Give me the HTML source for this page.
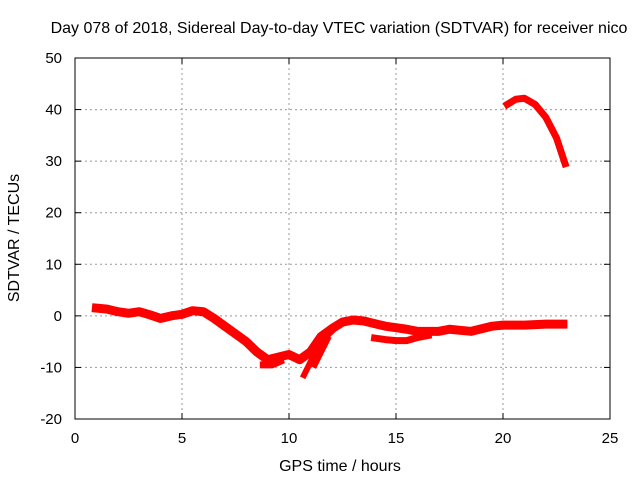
<!DOCTYPE html>
<html><head><meta charset="utf-8"><style>
body{margin:0;background:#fff}
svg{font-family:"Liberation Sans",sans-serif;font-size:15px}
.big{font-size:16px}
</style></head><body>
<svg width="640" height="480">
<rect width="640" height="480" fill="#fff"/>
<g id="grid"></g>
<g id="series"></g>
<rect x="75" y="58" width="535" height="361" fill="none" stroke="#000" stroke-width="1"/>
<g id="ticks"></g>
<text class="big" x="339" y="33" text-anchor="middle">Day 078 of 2018, Sidereal Day-to-day VTEC variation (SDTVAR) for receiver nico</text>
<text class="big" x="340" y="471" text-anchor="middle">GPS time / hours</text>
<text class="big" transform="translate(19,238) rotate(-90)" text-anchor="middle">SDTVAR / TECUs</text>
</svg>
<script>
const xTicks=[0,5,10,15,20,25];
const yTicks=[-20,-10,0,10,20,30,40,50];
const mainX=[1.0,1.5,2,2.5,3,3.5,4,4.5,5,5.5,6,6.5,7,7.5,8,8.5,9,9.5,10,10.5,11,11.5,12,12.5,13,13.5,14,14.5,15,15.5,16,16.5,17,17.5,18,18.5,19,19.5,20,21,22,22.8];
const mainY=[1.5,1.3,0.8,0.5,0.8,0.2,-0.5,0,0.3,1.0,0.8,-0.5,-2,-3.5,-5,-7,-8.5,-8,-7.5,-8.5,-7,-4,-2.5,-1.2,-0.8,-1,-1.5,-2,-2.3,-2.6,-3,-3,-3,-2.6,-2.8,-3,-2.5,-2,-1.8,-1.8,-1.6,-1.6];
const lowX=[14,14.5,15,15.5,16,16.5];
const lowY=[-4.3,-4.6,-4.8,-4.8,-4.2,-3.8];
const dipAX=[10.7,11,11.5,12];
const dipAY=[-11.5,-9,-5,-3];
const dipBX=[11.2,11.5,11.8];
const dipBY=[-9.5,-7,-4.5];
const dipCX=[8.8,9.2,9.6];
const dipCY=[-9.5,-9.5,-8.8];
const upX=[20.2,20.6,21,21.5,22,22.5,22.9];
const upY=[41,42,42.2,41,38.5,34.5,29.5];
const NS='http://www.w3.org/2000/svg';
const L=75,R=610,T=58,B=419;
const sx=v=>L+(v-0)/(25-0)*(R-L);
const sy=v=>B-(v+20)/(70)*(B-T);
const grid=document.getElementById('grid'),ticks=document.getElementById('ticks'),ser=document.getElementById('series');
function mk(t,a,p){const e=document.createElementNS(NS,t);for(const k in a)e.setAttribute(k,a[k]);p.appendChild(e);return e;}
xTicks.forEach(v=>{const x=sx(v);
 if(v>0&&v<25){const g=mk('line',{x1:x,x2:x,y1:T,y2:B,stroke:'#999','stroke-dasharray':'2,3'},grid);}
 mk('line',{x1:x,x2:x,y1:B,y2:B-6,stroke:'#000'},ticks);mk('line',{x1:x,x2:x,y1:T,y2:T+6,stroke:'#000'},ticks);
 const t=mk('text',{x:x,y:B+24,'text-anchor':'middle'},ticks);t.textContent=v;
 
 });
yTicks.forEach(v=>{const y=sy(v);
 if(v>-20&&v<50){const g=mk('line',{x1:L,x2:R,y1:y,y2:y,stroke:'#999','stroke-dasharray':'2,3'},grid);}
 mk('line',{x1:L,x2:L+6,y1:y,y2:y,stroke:'#000'},ticks);mk('line',{x1:R,x2:R-6,y1:y,y2:y,stroke:'#000'},ticks);
 const t=mk('text',{x:L-13,y:y+5,'text-anchor':'end'},ticks);t.textContent=v;
 
 });
function draw(xs,ys,name,w){const pts=xs.map((x,i)=>sx(x)+','+sy(ys[i])).join(' ');
 const p=mk('polyline',{points:pts,fill:'none',stroke:'#f00','stroke-width':w,'stroke-linejoin':'round','stroke-linecap':'square'},ser);
 
 }
draw(mainX,mainY,'main-trace',9);
draw(lowX,lowY,'low-branch-trace',7);
draw(dipAX,dipAY,'dip-branch-a',6);
draw(dipBX,dipBY,'dip-branch-b',6);
draw(dipCX,dipCY,'dip-branch-c',7);
draw(upX,upY,'upper-trace',7);
</script>
</body></html>
